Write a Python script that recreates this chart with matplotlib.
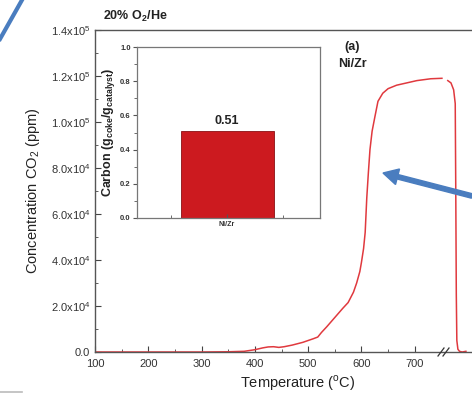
import matplotlib
matplotlib.use("Agg")
import matplotlib.pyplot as plt
from matplotlib.patches import FancyArrow
from matplotlib.lines import Line2D
import numpy as np

plt.rcParams['font.family'] = ['Liberation Sans', 'DejaVu Sans']
plt.rcParams['mathtext.fontset'] = 'custom'
plt.rcParams['mathtext.rm'] = 'Liberation Sans'
plt.rcParams['mathtext.bf'] = 'Liberation Sans:bold'

# TPO ramp: temperature (°C) vs CO2 concentration (ppm)
temp = [100, 150, 200, 250, 300, 350, 380, 400, 415, 425, 435, 445, 455, 470,
        490, 510, 518, 525, 535, 550, 565, 575, 585, 591, 597, 600, 604, 607,
        610, 613, 616, 620, 625, 631, 640, 650, 666, 685, 704, 730, 751]
co2 = [0, 0, 0, 0, 0, 100, 300, 1000, 1800, 2200, 2300, 2000, 2300, 3000,
       4200, 5800, 6500, 8500, 11000, 15000, 19000, 21500, 26000, 30000, 35000,
       39000, 45000, 52000, 67000, 78000, 88000, 96000, 102000, 109000, 112500,
       114500, 116000, 117000, 118000, 118800, 119000]

# Isothermal hold after the axis break (plotted past the break mark)
hold_x = [762, 768, 773, 776, 777, 778, 779, 781, 784, 789, 796]
hold_co2 = [118000, 117000, 114000, 108000, 70000, 25000, 5000, 1200, 300, 0, 300]

# Inset: carbon deposited per gram of catalyst
catalysts = ['Ni/Zr']
carbon = [0.51]

x_ticks = [100, 200, 300, 400, 500, 600, 700]
y_ticks = [0, 20000, 40000, 60000, 80000, 100000, 120000, 140000]
y_labels = ['0.0', r'2.0x10$^4$', r'4.0x10$^4$', r'6.0x10$^4$', r'8.0x10$^4$',
            r'1.0x10$^5$', r'1.2x10$^5$', r'1.4x10$^5$']

W, H = 472, 394
fig = plt.figure(figsize=(W / 100, H / 100), dpi=100)


def frac(left, top, right, bottom):
    return [left / W, 1 - bottom / H, (right - left) / W, (bottom - top) / H]


def px_line(xs, ys, **kw):
    """Line given in pixel coordinates (origin top-left)."""
    return Line2D([x / W for x in xs], [1 - y / H for y in ys],
                  transform=fig.transFigure, **kw)


ax = fig.add_axes(frac(95, 30, 500, 352))
red = '#E0393E'
ax.plot(temp, co2, color=red, lw=1.1)
ax.plot(hold_x, hold_co2, color=red, lw=1.1)
ax.set_xlim(100, 860)
ax.set_ylim(0, 140000)
ax.set_xticks(x_ticks)
ax.set_xticklabels([str(t) for t in x_ticks])
ax.set_xticks(np.arange(150, 700, 100), minor=True)
ax.set_yticks(y_ticks)
ax.set_yticklabels(y_labels)
ax.set_yticks(np.arange(10000, 140000, 20000), minor=True)
ax.tick_params(which='both', direction='in', labelsize=8, labelcolor='#333333',
               color='#444444')
ax.tick_params(which='major', length=4)
ax.tick_params(which='minor', length=2.5)
ax.tick_params(axis='x', pad=5)
for s in ax.spines.values():
    s.set_color('#555555')
    s.set_linewidth(1.0)
ax.spines['right'].set_visible(False)

ax.set_xlabel(r'Temperature ($^{\rm o}$C)', fontsize=10.5, color='#222222', labelpad=3)
ax.set_ylabel(r'Concentration CO$_2$ (ppm)', fontsize=10.5, color='#222222', labelpad=6)

# axis break marks
for x0 in (441, 446):
    fig.add_artist(px_line([x0 - 3, x0 + 3], [356, 348], color='#333333', lw=0.9))

fig.text(103 / W, 1 - 16 / H, r'20% O$_\mathbf{2}$/He', fontsize=9, fontweight='bold',
         color='#222222', va='center', ha='left')
fig.text(352 / W, 1 - 47 / H, '(a)', fontsize=9, fontweight='bold', color='#222222',
         va='center', ha='center')
fig.text(352 / W, 1 - 64 / H, 'Ni/Zr', fontsize=9, fontweight='bold', color='#222222',
         va='center', ha='center')

# inset bar chart
ins = fig.add_axes(frac(137, 47, 320, 218))
ins.bar([0], carbon, width=1.0, color='#CC1A1F', edgecolor='#8A1014', linewidth=0.6)
for xv, v in zip([0], carbon):
    ins.text(xv, v + 0.02, f'{v:.2f}', ha='center', va='bottom', fontsize=9,
             fontweight='bold', color='#222222')
ins.set_xlim(-0.97, 1.0)
ins.set_ylim(0, 1.0)
ins.set_xticks([0])
ins.set_xticklabels(catalysts, fontsize=5, fontweight='bold')
ins.set_xticks([-0.6, 0.6], minor=True)
ins.set_yticks(np.arange(0, 1.01, 0.2))
ins.set_yticklabels([f'{v:.1f}' for v in np.arange(0, 1.01, 0.2)], fontsize=5.5,
                    fontweight='bold')
ins.set_yticks(np.arange(0.1, 1.0, 0.2), minor=True)
ins.tick_params(axis='y', which='both', direction='out', color='#555555',
                labelcolor='#333333', pad=1.5)
ins.tick_params(axis='x', which='both', direction='in', color='#555555',
                labelcolor='#333333', pad=2)
ins.tick_params(which='major', length=3)
ins.tick_params(which='minor', length=2)
for s in ins.spines.values():
    s.set_color('#777777')
    s.set_linewidth(0.9)
ins.set_ylabel(r'Carbon (g$_{\mathbf{coke}}$/g$_{\mathbf{catalyst}}$)', fontsize=9,
               fontweight='bold', color='#222222', labelpad=2)

# blue callout arrow and line
blue = '#4A7DBF'
arrow = FancyArrow(472 / 100, (H - 196) / 100, -(472 - 383) / 100, (196 - 173) / 100,
                   width=0.045, head_width=0.16, head_length=0.15,
                   length_includes_head=True, color=blue, transform=fig.dpi_scale_trans,
                   clip_on=False)
fig.add_artist(arrow)
fig.add_artist(px_line([0, 22], [39, 0], color=blue, lw=3))
fig.add_artist(px_line([0, 22], [392, 392], color='#BBBBBB', lw=1.2))

fig.savefig('out.png', dpi=100)
